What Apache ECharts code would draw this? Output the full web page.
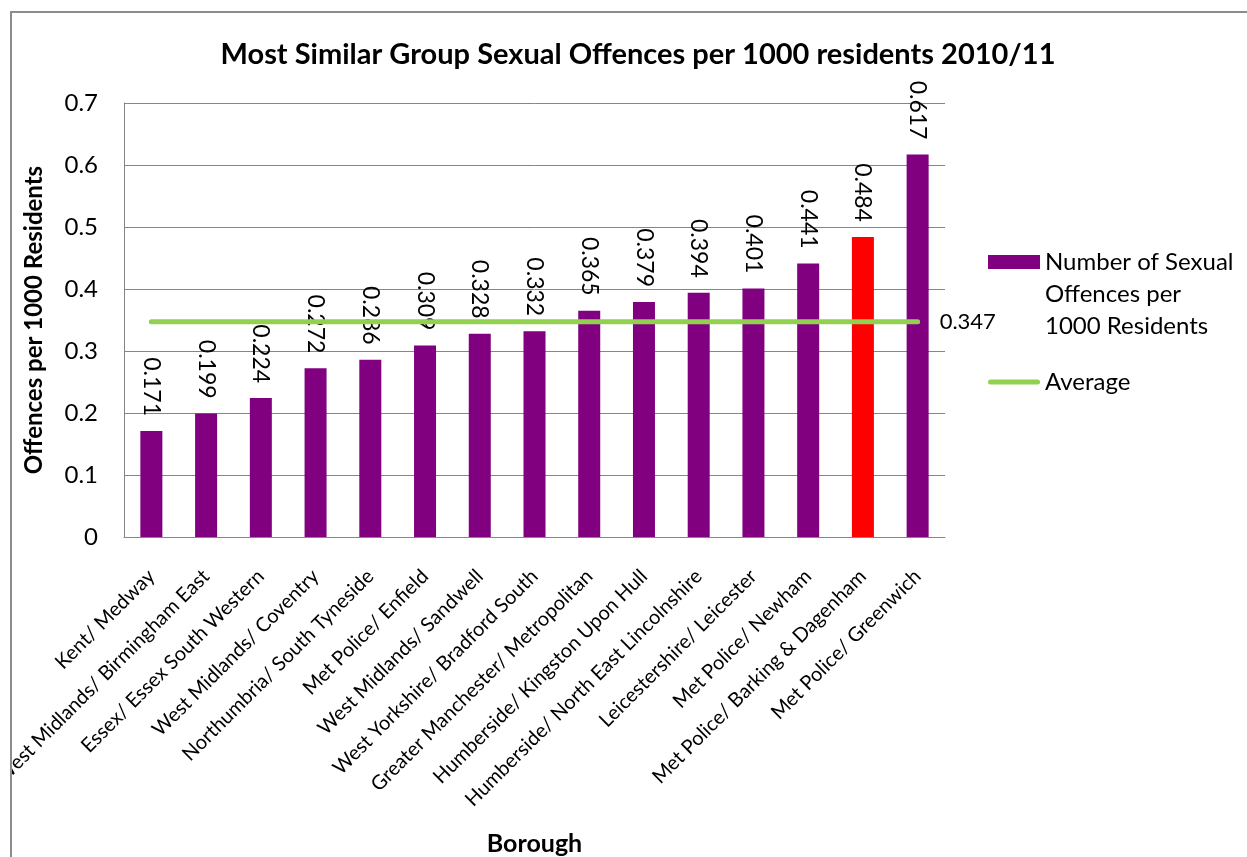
<!DOCTYPE html>
<html>
<head>
<meta charset="utf-8">
<script src="https://cdn.jsdelivr.net/npm/echarts@6/dist/echarts.min.js"></script>
<style>
    html, body { margin: 0; padding: 0; background: #fff; overflow: hidden; }
    #frame {
        position: absolute; left: 10px; top: 11px;
        width: 1240px; height: 850px;
        border: 2px solid #8c8c8c;
        overflow: hidden;
    }
    #sexoff { width: 1240px; height: 850px; }
</style>
</head>
<body>
<div id="frame"><div id="sexoff"></div></div>
<script>
var boroughs = [
    'Kent/ Medway',
    'West Midlands/ Birmingham East',
    'Essex/ Essex South Western',
    'West Midlands/ Coventry',
    'Northumbria/ South Tyneside',
    'Met Police/ Enfield',
    'West Midlands/ Sandwell',
    'West Yorkshire/ Bradford South',
    'Greater Manchester/ Metropolitan',
    'Humberside/ Kingston Upon Hull',
    'Humberside/ North East Lincolnshire',
    'Leicestershire/ Leicester',
    'Met Police/ Newham',
    'Met Police/ Barking & Dagenham',
    'Met Police/ Greenwich'
];
var offenceRates = [0.171, 0.199, 0.224, 0.272, 0.286, 0.309, 0.328, 0.332,
    0.365, 0.379, 0.394, 0.401, 0.441, 0.484, 0.617];
var averageRates = [0.347, 0.347, 0.347, 0.347, 0.347, 0.347, 0.347, 0.347,
    0.347, 0.347, 0.347, 0.347, 0.347, 0.347, 0.347];
var highlighted = 'Met Police/ Barking & Dagenham';
var yTicks = [0, 0.1, 0.2, 0.3, 0.4, 0.5, 0.6, 0.7];

var barName = 'Number of Sexual Offences per 1000 Residents';
var font = 'Lato';

var chart = echarts.init(document.getElementById('sexoff'));

var option = {
    backgroundColor: '#fff',
    animation: false,
    textStyle: { fontFamily: font, color: '#000' },
    title: {
        text: 'Most Similar Group Sexual Offences per 1000 residents 2010/11',
        left: 621,
        textAlign: 'center',
        top: 22,
        textStyle: { fontFamily: font, fontSize: 29, fontWeight: 'bold', color: '#000' }
    },
    legend: {
        orient: 'vertical',
        left: 976,
        top: 169,
        padding: 0,
        itemGap: 24,
        itemWidth: 52,
        itemHeight: 14,
        textStyle: { fontFamily: font, fontSize: 24, lineHeight: 32, color: '#000' },
        formatter: function (name) {
            // blank lines above keep the swatch beside the first line
            return name === barName ? '\n\nNumber of Sexual\nOffences per\n1000 Residents' : name;
        },
        data: [
            { name: barName, icon: 'rect' },
            { name: 'Average', icon: 'path://M2.5,0 L49.5,0 A2.5,2.5 0 0 1 49.5,5 L2.5,5 A2.5,2.5 0 0 1 2.5,0 Z' }
        ]
    },
    grid: { left: 112, right: 307, top: 90, bottom: 326, outerBoundsMode: 'none', containLabel: false },
    xAxis: {
        type: 'category',
        data: boroughs,
        name: 'Borough',
        nameLocation: 'middle',
        nameGap: 294,
        nameTextStyle: { fontFamily: font, fontSize: 25, fontWeight: 'bold', color: '#000' },
        axisLine: { lineStyle: { color: '#868686', width: 1 } },
        axisTick: { show: false },
        axisLabel: {
            interval: 0,
            rotate: 45,
            margin: 36,
            fontFamily: font,
            fontSize: 20,
            color: '#000'
        }
    },
    yAxis: {
        type: 'value',
        min: yTicks[0],
        max: yTicks[yTicks.length - 1],
        interval: 0.1,
        name: 'Offences per 1000 Residents',
        nameLocation: 'middle',
        nameGap: 78,
        nameTextStyle: { fontFamily: font, fontSize: 24, fontWeight: 'bold', color: '#000' },
        axisLine: { show: true, lineStyle: { color: '#868686', width: 1 } },
        axisTick: { show: false },
        splitLine: { lineStyle: { color: '#868686', width: 1 } },
        axisLabel: {
            margin: 26,
            fontFamily: font,
            fontSize: 24,
            color: '#000',
            formatter: function (v) { return v === 0 ? '0' : v.toFixed(1); }
        }
    },
    series: [{
        name: barName,
        type: 'bar',
        barWidth: 22,
        itemStyle: { color: '#800080' },
        label: {
            show: true,
            position: 'top',
            distance: 15,
            rotate: -90,
            align: 'right',
            verticalAlign: 'middle',
            fontFamily: font,
            fontSize: 23,
            color: '#000',
            formatter: function (p) { return p.value.toFixed(3); }
        },
        data: offenceRates.map(function (v, i) {
            return boroughs[i] === highlighted ? { value: v, itemStyle: { color: '#ff0000' } } : v;
        })
    }, {
        name: 'Average',
        type: 'line',
        symbol: 'none',
        z: 5,
        itemStyle: { color: '#92d050' },
        lineStyle: { color: '#92d050', width: 5, cap: 'round' },
        endLabel: {
            show: true,
            distance: 22,
            fontFamily: font,
            fontSize: 22,
            color: '#000',
            formatter: function (p) { return p.value.toFixed(3); }
        },
        data: averageRates
    }]
};

if (option && typeof option === "object") {
    chart.setOption(option, true);
}
window.addEventListener('resize', function () {
    chart.resize();
});
</script>
</body>
</html>
